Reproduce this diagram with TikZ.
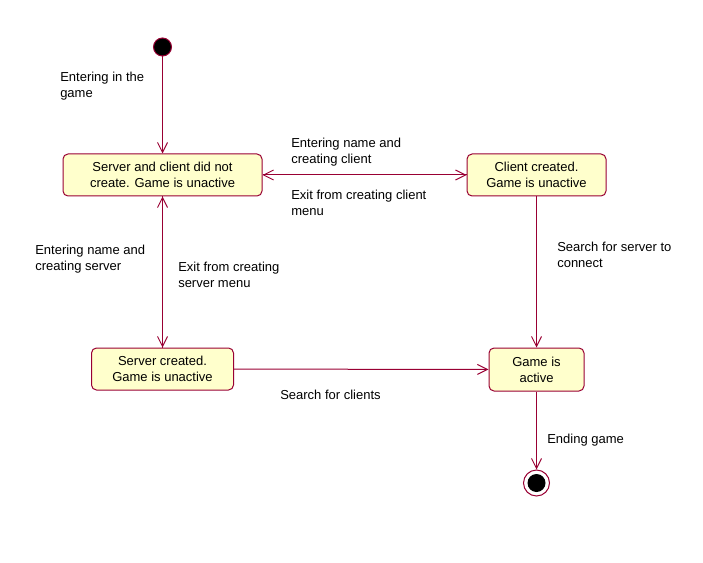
\documentclass[tikz,border=0pt]{standalone}
\usepackage{fontspec}
\setmainfont{Liberation Sans}
\usetikzlibrary{arrows.meta}
\definecolor{umlred}{RGB}{153,0,51}
\definecolor{umlfill}{RGB}{255,255,204}
\begin{document}
\begin{tikzpicture}[x=0.75pt,y=-0.75pt,
  every node/.style={font=\fontsize{9.75pt}{12pt}\selectfont},
  statebox/.style={draw=umlred,fill=umlfill,rounded corners=3.75pt,line width=0.75pt,align=center,inner sep=0pt},
  lbl/.style={anchor=west,align=left,inner sep=0pt},
  arr/.style={draw=umlred,line width=0.75pt,-{Straight Barb[length=7.5pt,width=7.5pt,line width=0.75pt]}}
]
\useasboundingbox (0,0) rectangle (703,563);
\node[circle,fill=black,draw=umlred,line width=0.75pt,minimum size=13.5pt,inner sep=0pt] (init) at (162.5,47) {};
\node[statebox,minimum width=149.25pt,minimum height=31.5pt] (b1) at (162.5,175) {Server and client did not\\create. Game is unactive};
\node[statebox,minimum width=104.25pt,minimum height=31.5pt] (b2) at (536.5,175) {Client created.\\Game is unactive};
\node[statebox,minimum width=106.5pt,minimum height=31.5pt] (b3) at (162.5,369) {Server created.\\Game is unactive};
\node[statebox,minimum width=71.25pt,minimum height=32.25pt] (b4) at (536.5,369.5) {Game is\\active};
\node[circle,draw=umlred,fill=white,line width=0.75pt,minimum size=19.5pt,inner sep=0pt] (fin) at (536.5,483) {};
\node[circle,fill=black,minimum size=13.5pt,inner sep=0pt] (finin) at (536.5,483) {};

\draw[arr] (init) -- (b1);
\draw[arr] (b1) -- (b2);
\draw[arr] (b2) -- (b1);
\draw[arr] (b1.south) -- (b3.north);
\draw[arr] (b3.north) -- (b1.south);
\draw[arr] (b2.south) -- (b4.north);
\draw[arr] (b3) -- (b4);
\draw[arr] (b4) -- (fin);

\node[lbl] (l1) at (60,86) {Entering in the\\game};
\node[lbl] (l2) at (291,152) {Entering name and\\creating client};
\node[lbl] (l3) at (291,202.5) {Exit from creating client\\menu};
\node[lbl] (l4) at (35,259.5) {Entering name and\\creating server};
\node[lbl] (l5) at (178,274.5) {Exit from creating\\server menu};
\node[lbl] (l6) at (557,254.5) {Search for server to\\connect};
\node[lbl] (l7) at (280,394.5) {Search for clients};
\node[lbl] (l8) at (547,440.5) {Ending game};
\end{tikzpicture}
\end{document}
